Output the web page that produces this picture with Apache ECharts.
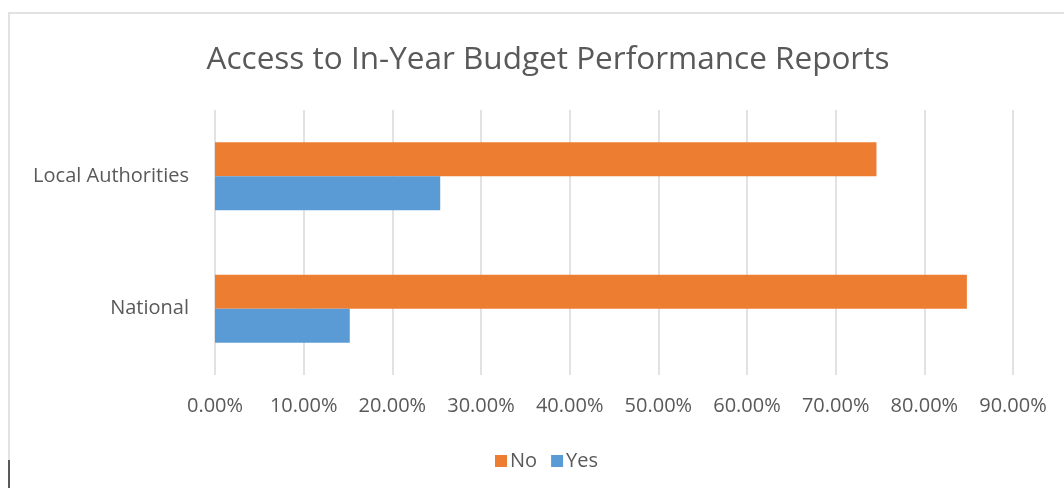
<!DOCTYPE html>
<html>
<head>
<meta charset="utf-8">
<script src="https://cdn.jsdelivr.net/npm/echarts@6/dist/echarts.min.js"></script>
<style>
  html, body { margin: 0; padding: 0; background: #ffffff; }
  #chart { width: 1064px; height: 488px; }
</style>
</head>
<body>
<div id="chart"></div>
<script>
// Survey: share of respondents with access to in-year budget performance reports
const categories = ['National', 'Local Authorities'];
const seriesNames = ['No', 'Yes'];
const noValues = [0.848, 0.746];
const yesValues = [0.152, 0.254];
const xTicks = { min: 0, max: 0.9, interval: 0.1 };

const textColor = '#595959';
const fontFamily = '"Open Sans", Lato, "Noto Sans", sans-serif';

const chart = echarts.init(document.getElementById('chart'), null, { renderer: 'canvas' });

chart.setOption({
  backgroundColor: '#ffffff',
  animation: false,
  title: {
    text: 'Access to In-Year Budget Performance Reports',
    left: 543,
    textAlign: 'center',
    top: 39,
    textStyle: { color: textColor, fontFamily: fontFamily, fontSize: 31.5, fontWeight: 'normal' }
  },
  legend: {
    data: seriesNames,
    left: 490,
    top: 446,
    itemWidth: 12,
    itemHeight: 12,
    itemGap: 14,
    icon: 'rect',
    textStyle: { color: textColor, fontFamily: fontFamily, fontSize: 20, padding: [0, 0, 0, -2] }
  },
  grid: { left: 215, right: 51, top: 110, bottom: 113, containLabel: false },
  xAxis: {
    type: 'value',
    min: xTicks.min,
    max: xTicks.max,
    interval: xTicks.interval,
    axisLine: { show: false },
    axisTick: { show: false },
    splitLine: { show: true, lineStyle: { color: '#d9d9d9', width: 1.5 } },
    axisLabel: {
      color: textColor,
      fontFamily: fontFamily,
      fontSize: 20,
      margin: 21,
      formatter: v => (v * 100).toFixed(2) + '%'
    }
  },
  yAxis: {
    type: 'category',
    data: categories,
    axisLine: { show: false },
    axisTick: { show: false },
    splitLine: { show: false },
    axisLabel: { color: textColor, fontFamily: fontFamily, fontSize: 20, margin: 26 }
  },
  series: [
    {
      name: 'No',
      type: 'bar',
      data: noValues,
      barWidth: 34,
      barGap: '0%',
      itemStyle: { color: '#ED7D31' }
    },
    {
      name: 'Yes',
      type: 'bar',
      data: yesValues,
      barWidth: 34,
      barGap: '0%',
      itemStyle: { color: '#5B9BD5' }
    }
  ],
  graphic: [
    {
      type: 'rect',
      shape: { x: 9, y: 13, width: 1080, height: 500 },
      style: { fill: 'none', stroke: '#e2e2e2', lineWidth: 2 },
      silent: true
    },
    {
      type: 'line',
      shape: { x1: 9, y1: 460, x2: 9, y2: 488 },
      style: { stroke: '#5a5a5a', lineWidth: 2 },
      silent: true
    }
  ]
});
</script>
</body>
</html>
